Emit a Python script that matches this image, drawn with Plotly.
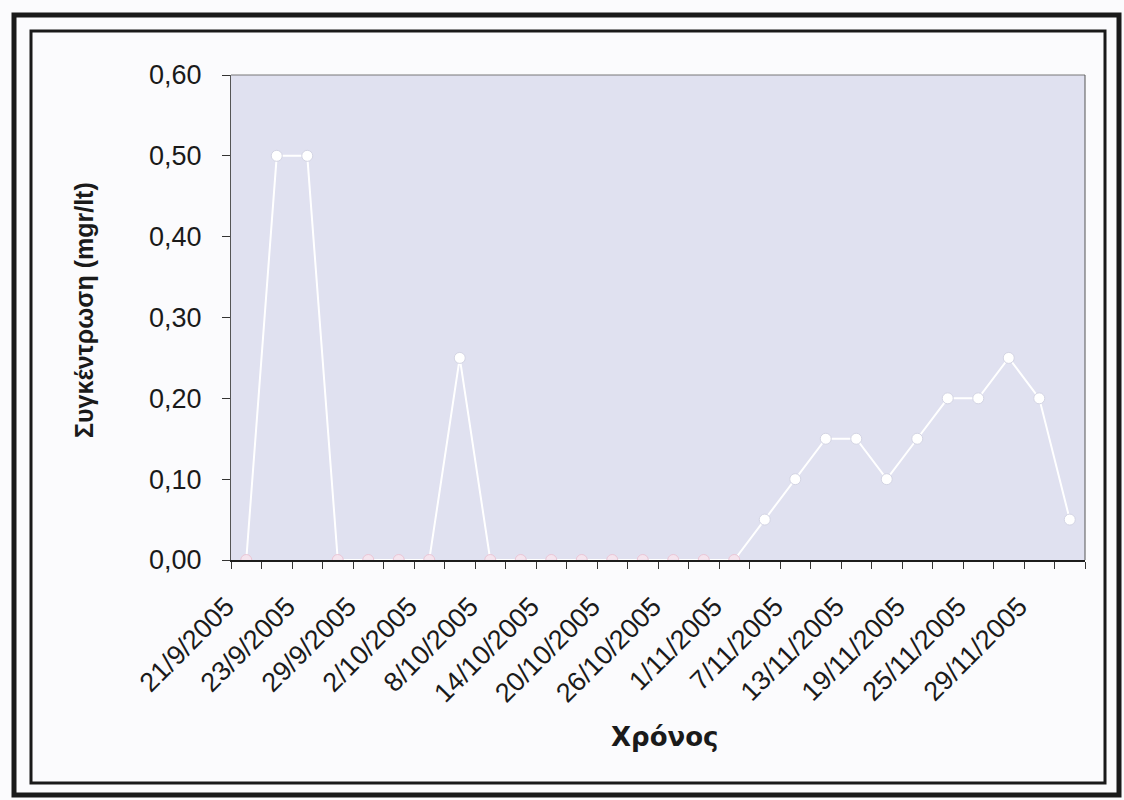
import plotly.graph_objects as go

# Sampling-date labels (every second sample is labelled on the axis)
tick_labels = [
    "21/9/2005", "23/9/2005", "29/9/2005", "2/10/2005", "8/10/2005",
    "14/10/2005", "20/10/2005", "26/10/2005", "1/11/2005", "7/11/2005",
    "13/11/2005", "19/11/2005", "25/11/2005", "29/11/2005",
]

# Measured concentration per sample (mgr/lt)
concentration = [
    0.00, 0.50, 0.50, 0.00, 0.00, 0.00, 0.00, 0.25, 0.00, 0.00,
    0.00, 0.00, 0.00, 0.00, 0.00, 0.00, 0.00, 0.05, 0.10, 0.15,
    0.15, 0.10, 0.15, 0.20, 0.20, 0.25, 0.20, 0.05,
]

y_ticks = [0.0, 0.1, 0.2, 0.3, 0.4, 0.5, 0.6]

W, H = 1124, 800
L, R, T, B = 231, 39, 75, 240
PW, PH = W - L - R, H - T - B

def px_x(p):
    return (p - L) / PW

def px_y(p):
    return 1 - (p - T) / PH

n = len(concentration)
xs = list(range(n))
label_pos = xs[::2][: len(tick_labels)]

marker_fill = ["#f4e4ee" if v == 0 else "#ffffff" for v in concentration]
marker_edge = ["#eac6d6" if v == 0 else "#d4d5e4" for v in concentration]

fig = go.Figure()
fig.add_trace(go.Scatter(
    x=xs,
    y=concentration,
    mode="lines+markers",
    line=dict(color="#ffffff", width=2),
    marker=dict(symbol="circle", size=11, color=marker_fill,
                line=dict(color=marker_edge, width=1)),
    hoverinfo="skip",
    showlegend=False,
))

fig.update_layout(
    width=W, height=H,
    margin=dict(l=L, r=R, t=T, b=B, pad=0),
    paper_bgcolor="#fbfbfd",
    plot_bgcolor="#e0e1f0",
    separators=",.",
    font=dict(family="Liberation Sans, Arial, sans-serif", color="#1a1a1a"),
    xaxis=dict(
        range=[-0.5, n - 0.5],
        tickmode="array",
        tickvals=label_pos,
        ticktext=tick_labels,
        tickangle=-45,
        ticks="",
        tickfont=dict(size=27),
        ticklabelshift=-20,
        ticklabelstandoff=18,
        showgrid=False,
        zeroline=False,
        showline=True,
        linecolor="#1c1c1c",
        linewidth=2,
        minor=dict(
            tickmode="array",
            tickvals=[i - 0.5 for i in range(n + 1)],
            ticks="outside",
            ticklen=7,
            tickwidth=1,
            tickcolor="#333333",
            showgrid=False,
        ),
    ),
    yaxis=dict(
        range=[0, 0.6],
        tickmode="array",
        tickvals=y_ticks,
        tickformat=".2f",
        ticks="outside",
        ticklen=8,
        tickwidth=1,
        tickcolor="#333333",
        tickfont=dict(size=27),
        ticklabelstandoff=15,
        showgrid=False,
        zeroline=False,
        showline=True,
        linecolor="#555555",
        linewidth=1,
    ),
)

# Plot-area border on the top and right sides
fig.add_shape(type="line", xref="paper", yref="paper",
              x0=0, x1=1, y0=1, y1=1, line=dict(color="#777777", width=1))
fig.add_shape(type="line", xref="paper", yref="paper",
              x0=1, x1=1, y0=0, y1=1, line=dict(color="#555555", width=1))

# Double frame around the chart
fig.add_shape(type="rect", xref="paper", yref="paper", layer="above",
              x0=px_x(14), x1=px_x(1119), y0=px_y(795), y1=px_y(15),
              line=dict(color="#1a1a1a", width=5))
fig.add_shape(type="rect", xref="paper", yref="paper", layer="above",
              x0=px_x(31), x1=px_x(1105), y0=px_y(783), y1=px_y(31),
              line=dict(color="#1a1a1a", width=3))

# Axis titles
fig.add_annotation(
    text="<b>Συγκέντρωση (mgr/lt)</b>", textangle=-90,
    xref="paper", yref="paper", x=px_x(84), y=px_y(310),
    showarrow=False, xanchor="center", yanchor="middle",
    font=dict(size=25, family="Liberation Sans, Arial, sans-serif", color="#1a1a1a"),
)
fig.add_annotation(
    text="<b>Χρόνος</b>",
    xref="paper", yref="paper", x=px_x(665), y=px_y(737),
    showarrow=False, xanchor="center", yanchor="middle",
    font=dict(size=26, family="DejaVu Sans, sans-serif", color="#1a1a1a"),
)

fig.write_html("out.html")
